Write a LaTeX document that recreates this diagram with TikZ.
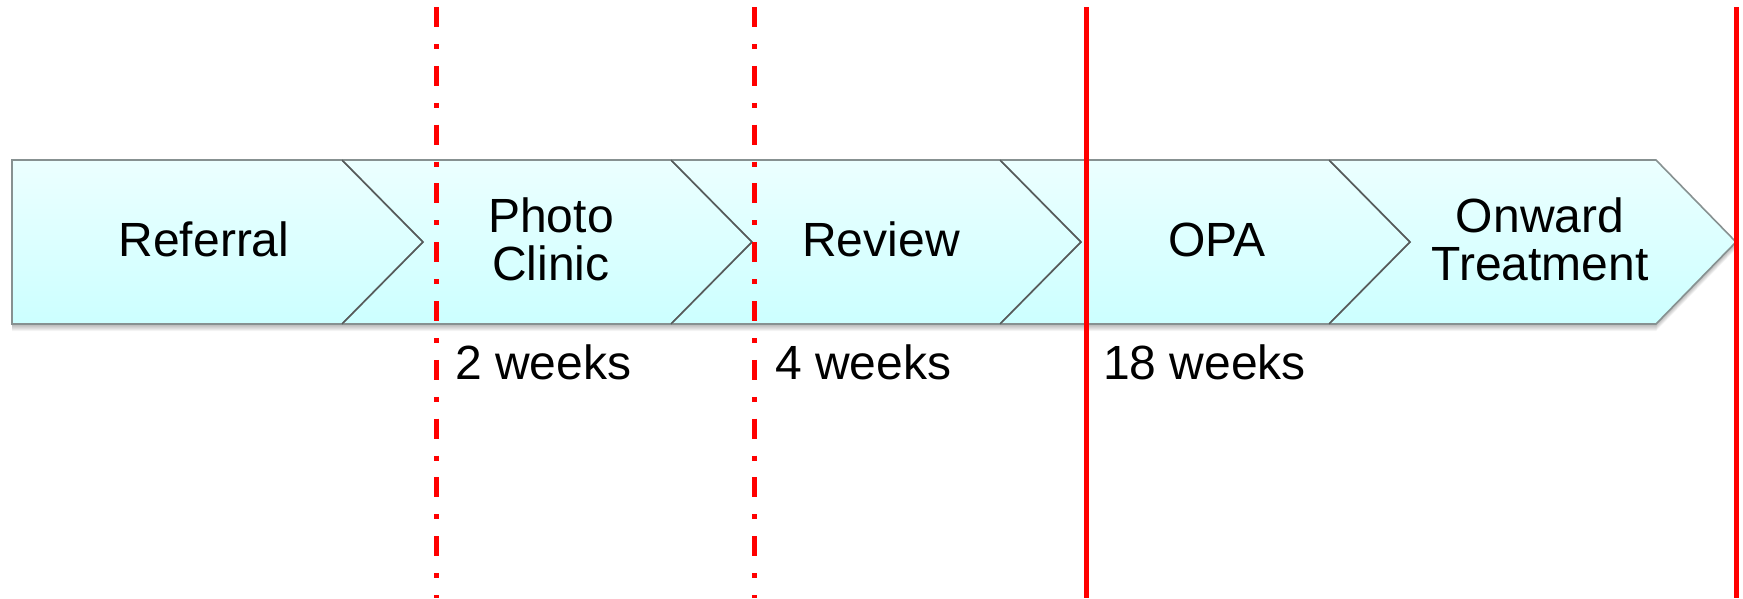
\documentclass[tikz,border=0pt]{standalone}
\usepackage{fontspec}
\setmainfont{Liberation Sans}
\definecolor{cyanTop}{RGB}{236,255,255}
\definecolor{cyanBot}{RGB}{204,255,255}
\definecolor{edgegray}{RGB}{135,145,145}
\definecolor{divgray}{RGB}{85,90,90}
\begin{document}
\begin{tikzpicture}[x=1pt,y=-1pt,
  band/.style={top color=cyanTop, bottom color=cyanBot, draw=edgegray, line width=1.6pt, line join=miter},
  tipedge/.style={draw=divgray, line width=1.4pt},
  redline/.style={draw=red, line width=5pt},
  reddash/.style={redline, dash pattern=on 20pt off 17pt on 5pt off 16.8pt},
  lbl/.style={font=\fontsize{48}{48}\selectfont, inner sep=0pt, align=center}]
\fill[white] (0,0) rectangle (1743,598);
\useasboundingbox (0,0) rectangle (1743,598);
% shadow
\foreach \k in {1,...,7}{
  \fill[black,opacity=0.045] (12,160+\k) -- (1656,160+\k) -- (1736,242+\k) -- (1656,324+\k) -- (12,324+\k) -- cycle;
}
% chevrons
\path[band] (12,160) -- (342,160) -- (423,242) -- (342,324) -- (12,324) -- cycle;
\path[band] (342,160) -- (671,160) -- (752,242) -- (671,324) -- (342,324) -- (423,242) -- cycle;
\path[band] (671,160) -- (1000,160) -- (1081,242) -- (1000,324) -- (671,324) -- (752,242) -- cycle;
\path[band] (1000,160) -- (1329,160) -- (1410,242) -- (1329,324) -- (1000,324) -- (1081,242) -- cycle;
\path[band] (1329,160) -- (1656,160) -- (1736,242) -- (1656,324) -- (1329,324) -- (1410,242) -- cycle;
% tip edges
\draw[tipedge] (342,160) -- (423,242) -- (342,324);
\draw[tipedge] (671,160) -- (752,242) -- (671,324);
\draw[tipedge] (1000,160) -- (1081,242) -- (1000,324);
\draw[tipedge] (1329,160) -- (1410,242) -- (1329,324);
% labels
\node[lbl, anchor=base] (referral) at (204,256) {Referral};
\node[lbl, anchor=base] (photo) at (551,280) {Photo\\Clinic};
\node[lbl, anchor=base] (review) at (881,256) {Review};
\node[lbl, anchor=base] (opa) at (1217,256) {OPA};
\node[lbl, anchor=base] (onward) at (1540,280) {Onward\\Treatment};
\node[lbl, anchor=base west] (w2) at (455,379) {2 weeks};
\node[lbl, anchor=base west] (w4) at (775,379) {4 weeks};
\node[lbl, anchor=base west] (w18) at (1103,379) {18 weeks};
% red lines
\coordinate (d1t) at (436,7);   \coordinate (d1b) at (436,598);
\coordinate (d2t) at (754,7);   \coordinate (d2b) at (754,598);
\coordinate (s1t) at (1086.5,7); \coordinate (s1b) at (1086.5,598);
\coordinate (s2t) at (1736.5,7); \coordinate (s2b) at (1736.5,598);
\draw[reddash] (d1t) -- (d1b);
\draw[reddash] (d2t) -- (d2b);
\draw[redline] (s1t) -- (s1b);
\draw[redline] (s2t) -- (s2b);
\end{tikzpicture}
\end{document}
